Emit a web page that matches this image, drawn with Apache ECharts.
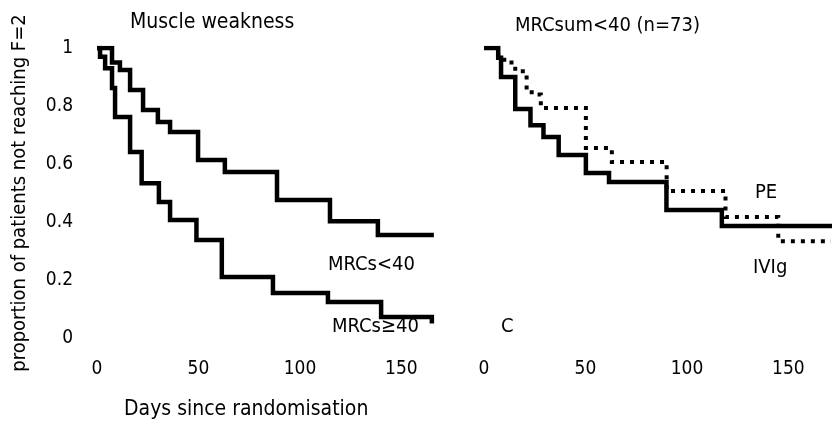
<!DOCTYPE html>
<html>
<head>
<meta charset="utf-8">
<script src="https://cdn.jsdelivr.net/npm/echarts@6/dist/echarts.min.js"></script>
<style>
  html, body { margin: 0; padding: 0; background: #fff; }
  #chart { width: 832px; height: 423px; }
</style>
</head>
<body>
<div id="chart"></div>
<script>
// Kaplan-Meier style step curves (days, proportion)
const mrcLowDays = [0, 7.4, 11.3, 16.3, 22.7, 30, 36, 49.8, 63, 88.7, 114.8, 138.4, 166];
const mrcLowVals = [1, 0.95, 0.924, 0.855, 0.786, 0.745, 0.71, 0.614, 0.572, 0.476, 0.403, 0.355, 0.355];

const mrcHighDays = [0, 1.5, 4, 7.4, 8.9, 16.3, 22, 30.5, 36, 49, 61.5, 86.7, 113.8, 140, 165];
const mrcHighVals = [1, 0.97, 0.93, 0.862, 0.762, 0.641, 0.534, 0.469, 0.407, 0.338, 0.21, 0.155, 0.124, 0.072, 0.05];

const solidDays = [0, 7, 8.4, 15.4, 22.9, 29.3, 36.8, 50.2, 61.6, 89.9, 117.2, 172];
const solidVals = [1, 0.966, 0.9, 0.79, 0.734, 0.693, 0.631, 0.569, 0.538, 0.441, 0.386, 0.386];

const dottedDays = [0, 7, 10, 15.4, 21, 23.5, 28, 50.2, 63, 90, 119, 145, 172];
const dottedVals = [1, 0.97, 0.95, 0.92, 0.855, 0.84, 0.793, 0.655, 0.607, 0.507, 0.417, 0.334, 0.334];

const xTicks = [0, 50, 100, 150];
const yTicks = [0, 0.2, 0.4, 0.6, 0.8, 1];

const FONT = "'DejaVu Sans Condensed', 'DejaVu Sans', sans-serif";
const pairs = (xs, ys) => xs.map((x, i) => [x, ys[i]]);

const chart = echarts.init(document.getElementById("chart"));

const xAxisBase = (gridIndex) => ({
  gridIndex, type: "value", min: 0, max: 170, interval: 50,
  axisLine: { show: false }, axisTick: { show: false }, splitLine: { show: false },
  axisLabel: { showMaxLabel: false, margin: 22, color: "#000", fontSize: 19, fontFamily: FONT,
    formatter: (v) => (xTicks.includes(v) ? String(v) : "") },
});
const yAxisBase = (gridIndex, labels) => ({
  gridIndex, type: "value", min: 0, max: 1, interval: 0.2,
  axisLine: { show: false }, axisTick: { show: false }, splitLine: { show: false },
  axisLabel: { show: labels, margin: 24, color: "#000", fontSize: 19, fontFamily: FONT,
    formatter: (v) => { const t = yTicks.find((y) => Math.abs(y - v) < 1e-6); return t === undefined ? "" : String(t); } },
});

const solid = { color: "#000", width: 4.5, type: "solid", cap: "butt", join: "miter" };
const dotted = { color: "#000", width: 4, type: [4, 6], cap: "butt", join: "miter" };

const text = (x, y, str, size) => ({
  type: "text", left: x, top: y,
  style: { text: str, fill: "#000", font: `${size || 20}px ${FONT}` },
});

chart.setOption({
  backgroundColor: "#fff",
  animation: false,
  title: [
    { text: "Muscle weakness", left: 130, top: 12, padding: 0, textStyle: { color: "#000", fontSize: 21, fontWeight: "normal", fontFamily: FONT } },
    { text: "MRCsum<40 (n=73)", left: 515, top: 16, padding: 0, textStyle: { color: "#000", fontSize: 20, fontWeight: "normal", fontFamily: FONT } },
  ],
  grid: [
    { left: 97, top: 48, width: 345, height: 290 },
    { left: 484, top: 48, width: 345, height: 290 },
  ],
  xAxis: [xAxisBase(0), xAxisBase(1)],
  yAxis: [
    Object.assign(yAxisBase(0, true), {
      name: "proportion of patients not reaching F=2", nameLocation: "middle", nameGap: 67,
      nameTextStyle: { color: "#000", fontSize: 20, fontFamily: FONT },
    }),
    yAxisBase(1, false),
  ],
  series: [
    { name: "MRCs<40", type: "line", step: "end", xAxisIndex: 0, yAxisIndex: 0, showSymbol: false, lineStyle: solid, data: pairs(mrcLowDays, mrcLowVals) },
    { name: "MRCs≥40", type: "line", step: "end", xAxisIndex: 0, yAxisIndex: 0, showSymbol: false, lineStyle: solid, data: pairs(mrcHighDays, mrcHighVals) },
    { name: "solid", type: "line", step: "end", xAxisIndex: 1, yAxisIndex: 1, showSymbol: false, lineStyle: solid, data: pairs(solidDays, solidVals) },
    { name: "dotted", type: "line", step: "end", xAxisIndex: 1, yAxisIndex: 1, showSymbol: false, lineStyle: dotted, data: pairs(dottedDays, dottedVals) },
  ],
  graphic: [
    text(328, 255, "MRCs<40"),
    text(332, 317, "MRCs≥40"),
    text(501, 317, "C"),
    text(755, 183, "PE"),
    text(753, 258, "IVIg"),
    text(124, 399, "Days since randomisation", 21),
  ],
});
</script>
</body>
</html>
